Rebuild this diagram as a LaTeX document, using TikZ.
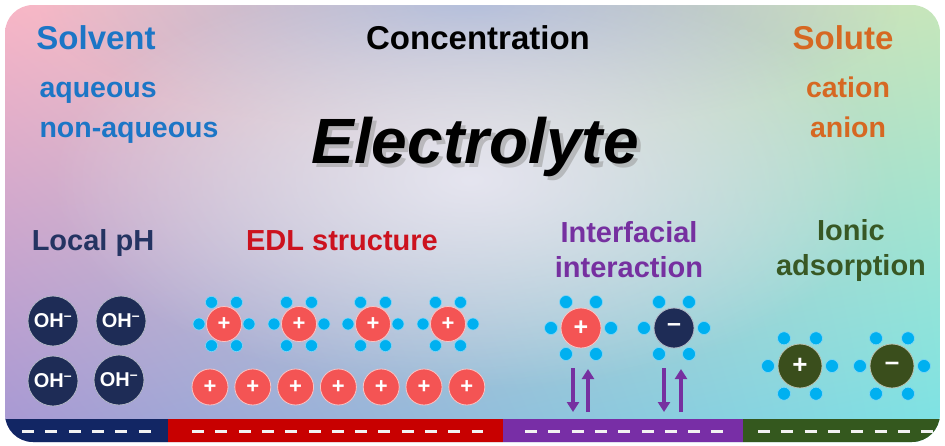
\documentclass[tikz,border=0pt]{standalone}
\usepackage{fontspec}
\setmainfont{Liberation Sans}
\usetikzlibrary{arrows.meta,fadings,shadings}
\definecolor{bgtl}{RGB}{248,182,198}
\definecolor{bgtr}{RGB}{198,230,186}
\definecolor{bgbl}{RGB}{164,152,212}
\definecolor{bgbr}{RGB}{122,226,230}
\definecolor{bgtop}{RGB}{160,180,222}
\definecolor{bgmid}{RGB}{236,234,246}
\definecolor{solventblue}{RGB}{28,118,198}
\definecolor{soluteorange}{RGB}{214,104,34}
\definecolor{phnavy}{RGB}{36,52,98}
\definecolor{edlred}{RGB}{204,18,30}
\definecolor{ifpurple}{RGB}{118,48,160}
\definecolor{adsgreen}{RGB}{56,88,36}
\definecolor{ohnavy}{RGB}{30,44,86}
\definecolor{ionred}{RGB}{244,84,84}
\definecolor{iongreen}{RGB}{58,78,28}
\definecolor{waterblue}{RGB}{0,176,240}
\definecolor{barnavy}{RGB}{18,38,100}
\definecolor{barred}{RGB}{200,0,0}
\definecolor{barpurple}{RGB}{120,46,166}
\definecolor{bargreen}{RGB}{52,88,30}
\tikzfading[name=glowfade, inner color=transparent!0, outer color=transparent!100]
\newcommand{\hydrate}[3]{%
  \foreach \a in {0,60,...,300}
    \path[water] (#1) ++(\a:#2) circle (#3);}

\begin{document}
\begin{tikzpicture}[x=1pt, y=-1pt,
  head/.style={anchor=base, font=\fontsize{33}{33}\bfseries},
  subhead/.style={anchor=base, font=\fontsize{28.5}{28.5}\bfseries},
  topic/.style={align=center, font=\fontsize{29}{35}\bfseries},
  title/.style={anchor=base, font=\fontsize{64}{64}\bfseries\itshape},
  ion/.style={circle, inner sep=0pt, fill=#1, draw=white!65!#1, line width=0.8pt, text=white},
  ohion/.style={ion=ohnavy, minimum size=50pt, font=\fontsize{20}{20}\bfseries},
  edlion/.style={ion=ionred, minimum size=35pt, font=\fontsize{22}{22}\bfseries},
  bigion/.style={ion=#1, minimum size=40pt, font=\fontsize{25}{25}\bfseries},
  adsion/.style={ion=iongreen, minimum size=44pt, font=\fontsize{26}{26}\bfseries},
  water/.style={fill=waterblue, draw=white!50!waterblue, line width=0.6pt},
  ionarrow/.style={ifpurple, line width=3.5pt, -{Triangle[length=10pt, width=12pt]}},
  minus/.style={white!90!gray, line width=3pt, dash pattern=on 12pt off 11.3pt}
]
\useasboundingbox (0,0) rectangle (945,445);

% background
\shade[rounded corners=28pt, upper left=bgtl, upper right=bgtr,
  lower left=bgbl, lower right=bgbr] (5,5) rectangle (940,442);
\begin{scope}
  \clip[rounded corners=28pt] (5,5) rectangle (940,442);
  \fill[bgtop, opacity=0.8, path fading=glowfade] (40,-125) rectangle (900,135);
  \fill[bgmid, opacity=0.85, path fading=glowfade] (50,-30) rectangle (890,390);
  % electrode
  \fill[barnavy] (0,419) rectangle (168,445);
  \fill[barred] (168,419) rectangle (503,445);
  \fill[barpurple] (503,419) rectangle (743,445);
  \fill[bargreen] (743,419) rectangle (945,445);
\end{scope}
\draw[minus] (22,431) -- (152,431);
\draw[minus] (192,431) -- (483,431);
\draw[minus] (525,431) -- (725,431);
\draw[minus] (758,431) -- (935,431);

% headings
\node[head, text=solventblue] (solvent) at (96,49) {Solvent};
\node[head] (conc) at (478,49) {Concentration};
\node[head, text=soluteorange] (solute) at (843,49) {Solute};
\node[subhead, text=solventblue, anchor=base west] (aq) at (36,97) {aqueous};
\node[subhead, text=solventblue, anchor=base west] (naq) at (36,137) {non-aqueous};
\node[subhead, text=soluteorange] (cation) at (848,97) {cation};
\node[subhead, text=soluteorange] (anion) at (848,137) {anion};
\node[title, text=black!40, opacity=0.55] (eshadow) at (479,167) {Electrolyte};
\node[title] (electrolyte) at (475,163) {Electrolyte};

\node[topic, anchor=base, text=phnavy] (ph) at (93,250) {Local pH};
\node[topic, anchor=base, text=edlred] (edl) at (342,250) {EDL structure};
\node[topic, text=ifpurple] (inter) at (629,250) {Interfacial\\interaction};
\node[topic, text=adsgreen] (ads) at (851,250) {Ionic\\adsorption};

% local pH
\foreach \x/\y [count=\i] in {53/321,121/321,53/381,119/380}
  \node[ohion] (oh\i) at (\x,\y) {OH\textsuperscript{–}};

% EDL
\foreach \x [count=\i] in {224,299,373,448} {
  \node[edlion] (h\i) at (\x,324) {+};
  \hydrate{h\i}{25}{6}
}
\foreach \i in {0,...,6}
  \node[edlion, minimum size=36pt] (r\i) at (210+42.8*\i,387) {+};

% interfacial interaction
\node[bigion=ionred] (icat) at (581,328) {+};
\node[bigion=ohnavy] (ian) at (674,328) {–};
\hydrate{icat}{30}{6.5}
\hydrate{ian}{30}{6.5}
\coordinate (c1t) at (573,368);
\coordinate (c1b) at (573,412);
\coordinate (c2t) at (588,369);
\coordinate (c2b) at (588,412);
\coordinate (a1t) at (664,368);
\coordinate (a1b) at (664,412);
\coordinate (a2t) at (681,369);
\coordinate (a2b) at (681,412);
\draw[ionarrow] (c1t) -- (c1b);
\draw[ionarrow] (c2b) -- (c2t);
\draw[ionarrow] (a1t) -- (a1b);
\draw[ionarrow] (a2b) -- (a2t);

% ionic adsorption
\node[adsion] (acat) at (800,366) {+};
\node[adsion] (aan) at (892,366) {–};
\hydrate{acat}{32}{6.5}
\hydrate{aan}{32}{6.5}
\end{tikzpicture}
\end{document}
